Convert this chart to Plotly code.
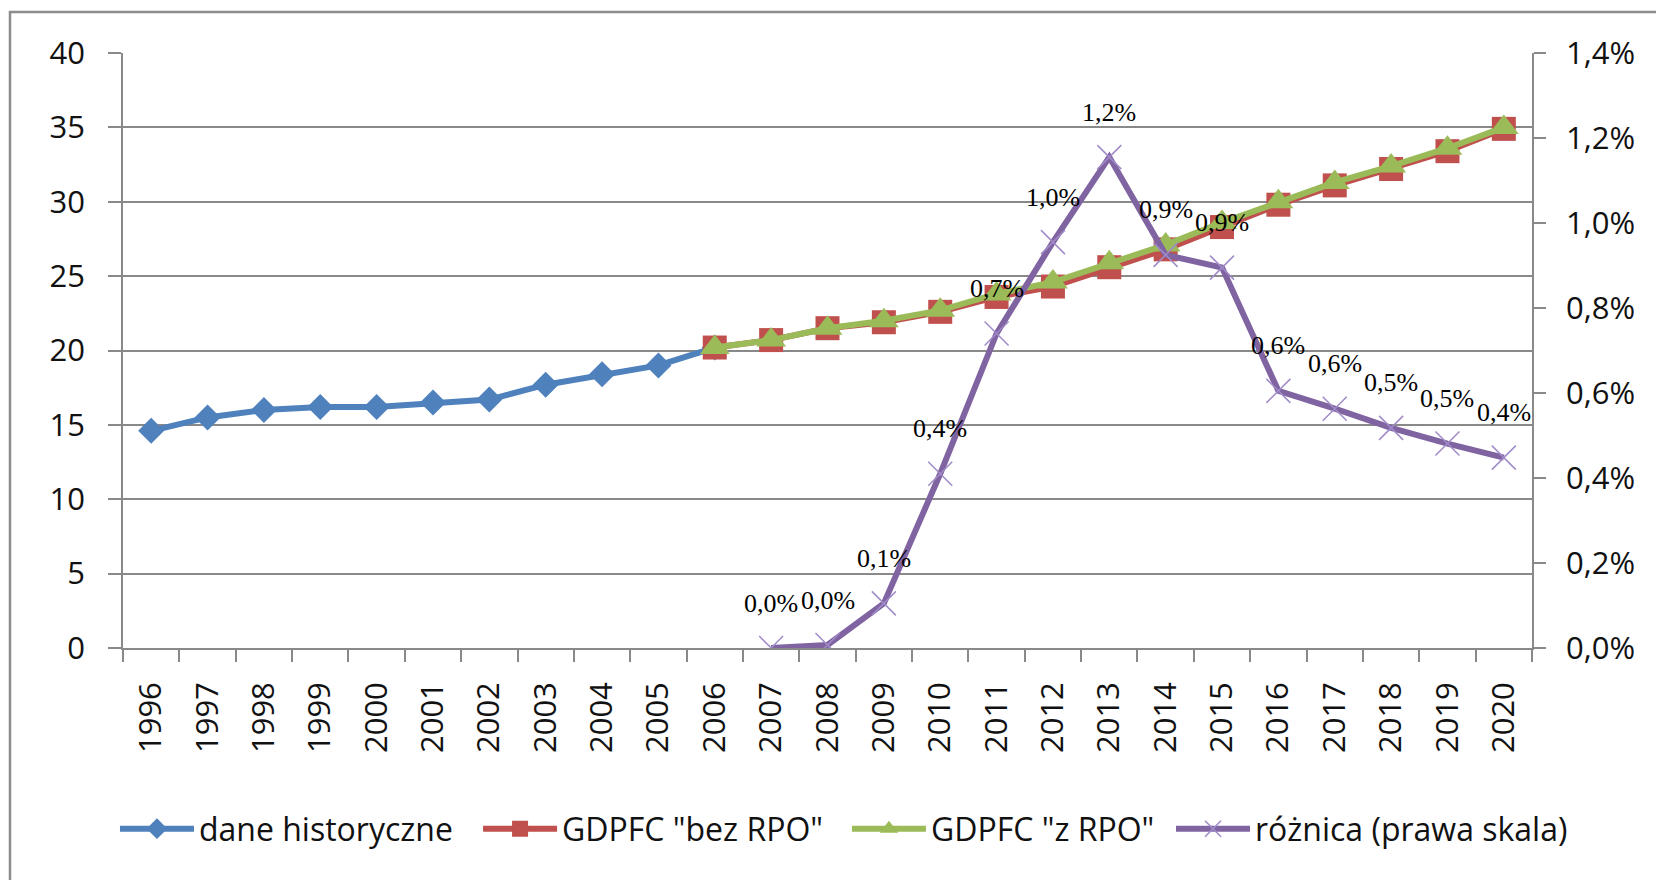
import plotly.graph_objects as go

years = [str(y) for y in range(1996, 2021)]

hist_years = years[0:11]
hist_vals = [14.6, 15.5, 16.0, 16.2, 16.2, 16.5, 16.7, 17.7, 18.4, 19.0, 20.2]

fc_years = years[10:]
bez_rpo = [20.2, 20.7, 21.5, 21.9, 22.6, 23.6, 24.3, 25.6, 26.8, 28.3, 29.8, 31.1, 32.2, 33.4, 34.9]
z_rpo = [20.2, 20.7, 21.5, 22.0, 22.7, 23.8, 24.6, 25.9, 27.1, 28.6, 30.0, 31.3, 32.4, 33.6, 35.0]

diff_years = years[11:]
diff_vals = [0.000, 0.007, 0.105, 0.41, 0.74, 0.955, 1.155, 0.925, 0.895, 0.605, 0.563, 0.518, 0.481, 0.448]
diff_labels = ["0,0%", "0,0%", "0,1%", "0,4%", "0,7%", "1,0%", "1,2%", "0,9%", "0,9%",
               "0,6%", "0,6%", "0,5%", "0,5%", "0,4%"]

left_ticks = [0, 5, 10, 15, 20, 25, 30, 35, 40]
right_ticks = [0.0, 0.2, 0.4, 0.6, 0.8, 1.0, 1.2, 1.4]

BLUE = "#4F81BD"
RED = "#C0504D"
GREEN = "#9BBB59"
PURPLE = "#8064A2"
XMARK = "#A08BC8"
GRID = "#898989"
FONT = "Open Sans"

fig = go.Figure()
fig.add_trace(go.Scatter(
    x=hist_years, y=hist_vals, name="dane historyczne", mode="lines+markers",
    line=dict(color=BLUE, width=6), legend="legend",
    marker=dict(symbol="diamond", size=20, color=BLUE)))
fig.add_trace(go.Scatter(
    x=fc_years, y=bez_rpo, name='GDPFC "bez RPO"', mode="lines+markers",
    line=dict(color=RED, width=6), legend="legend2",
    marker=dict(symbol="square", size=24, color=RED)))
fig.add_trace(go.Scatter(
    x=fc_years, y=z_rpo, name='GDPFC "z RPO"', mode="lines+markers",
    line=dict(color=GREEN, width=6), legend="legend3",
    marker=dict(symbol="triangle-up", size=26, color=GREEN)))
fig.add_trace(go.Scatter(
    x=diff_years, y=[v / 100 for v in diff_vals], name="różnica (prawa skala)",
    mode="lines+markers", yaxis="y2", legend="legend4",
    line=dict(color=PURPLE, width=6),
    marker=dict(symbol="x-thin-open", size=24, color=XMARK,
                line=dict(color=XMARK, width=1.5))))

for yr, v, lab in zip(diff_years, diff_vals, diff_labels):
    fig.add_annotation(x=years.index(yr), y=v / 100, xref="x", yref="y2", text=lab,
                       showarrow=False, yshift=45,
                       font=dict(family="Liberation Serif", size=26, color="#000"))

fig.add_shape(type="rect", xref="paper", yref="paper",
              x0=-0.0802, x1=1.2, y0=-0.5, y1=1.069,
              line=dict(color="#8c8c8c", width=2.5), layer="below")

leg_common = dict(orientation="h", xanchor="left", y=-0.304, yanchor="middle",
                  font=dict(family=FONT, size=32, color="#111"),
                  itemwidth=74, bgcolor="rgba(0,0,0,0)")

fig.update_layout(
    width=1664, height=880,
    margin=dict(l=115, r=140, t=45, b=240),
    paper_bgcolor="white", plot_bgcolor="white",
    separators=",.",
    font=dict(family=FONT, size=31, color="#111"),
    showlegend=True,
    legend=dict(x=-0.0057, **leg_common),
    legend2=dict(x=0.252, **leg_common),
    legend3=dict(x=0.5138, **leg_common),
    legend4=dict(x=0.7438, **leg_common),
    xaxis=dict(type="category", categoryorder="array", categoryarray=years,
               range=[-0.5, len(years) - 0.5],
               tickson="boundaries", ticks="outside", ticklen=12, tickwidth=1.5,
               tickcolor=GRID, showline=True, linecolor=GRID, linewidth=1.5,
               tickangle=-90, showgrid=False, ticklabelstandoff=20,
               tickfont=dict(family=FONT, size=31, color="#111")),
    yaxis=dict(range=[0, 40], tickvals=left_ticks, ticks="outside", ticklen=13,
               tickwidth=1.5, tickcolor=GRID, showline=True, linecolor=GRID,
               linewidth=1.5, showgrid=True, gridcolor=GRID, gridwidth=1.5,
               zeroline=False, ticklabelstandoff=17,
               tickfont=dict(family=FONT, size=31, color="#111")),
    yaxis2=dict(range=[0, 1.4 / 100], tickvals=[t / 100 for t in right_ticks],
                tickformat=".1%", overlaying="y", side="right", ticks="outside",
                ticklen=12, tickwidth=1.5, tickcolor=GRID, showline=True,
                linecolor=GRID, linewidth=1.5, showgrid=False, zeroline=False,
                ticklabelstandoff=14,
                tickfont=dict(family=FONT, size=31, color="#111")),
)

fig.write_html("out.html")
